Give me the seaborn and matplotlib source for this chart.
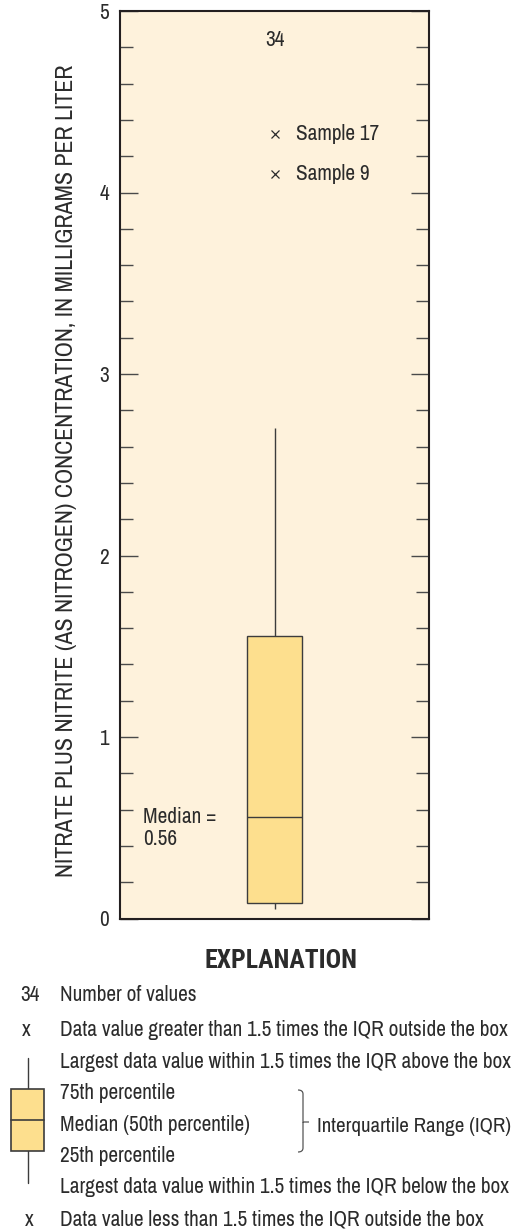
import numpy as np
import pandas as pd
import matplotlib
matplotlib.use("Agg")
import matplotlib.pyplot as plt
from matplotlib.ticker import MultipleLocator, FixedFormatter, FixedLocator
from matplotlib.path import Path
from matplotlib.patches import PathPatch, Rectangle
from matplotlib.lines import Line2D
import seaborn as sns

# Nitrate plus nitrite (as N) concentrations, mg/L, one value per sample
concentrations = [0.05, 0.05, 0.06, 0.06, 0.06, 0.07, 0.07, 0.08, 0.08, 0.092,
                  0.12, 0.18, 0.25, 0.31, 0.38, 0.46, 0.55, 0.57, 0.68, 0.79,
                  0.90, 1.04, 1.18, 1.36, 1.54, 1.56, 1.72, 1.88, 2.02, 2.19,
                  2.41, 2.70, 4.10, 4.32]
outlier_names = ["Sample 9", "Sample 17"]
y_ticks = [0, 1, 2, 3, 4, 5]
y_tick_labels = ["0", "1", "2", "3", "4", "5"]

ylabel = "NITRATE PLUS NITRITE (AS NITROGEN) CONCENTRATION, IN MILLIGRAMS PER LITER"
legend_rows = [
    ("34", "Number of values"),
    ("x", "Data value greater than 1.5 times the IQR outside the box"),
    ("", "Largest data value within 1.5 times the IQR above the box"),
    ("", "75th percentile"),
    ("", "Median (50th percentile)"),
    ("", "25th percentile"),
    ("", "Largest data value within 1.5 times the IQR below the box"),
    ("x", "Data value less than 1.5 times the IQR outside the box"),
]

BG = "#FEF2DC"
BOX = "#FDDF8E"
INK = "#2b2b2b"
EDGE = "#3c3c3c"
NARROW = ["Archivo Narrow", "Roboto Condensed", "DejaVu Sans"]
NARROW_BOLD = ["Roboto Condensed", "Fira Sans Condensed", "DejaVu Sans"]
FS = 15.3

sns.set_theme(style="white")
plt.rcParams["font.family"] = NARROW
plt.rcParams["text.color"] = INK

W, H = 514, 1232
fig = plt.figure(figsize=(W / 100, H / 100), dpi=100)


def fx(px):
    return px / W


def fy(py):
    return 1 - py / H


ax = fig.add_axes([fx(120), fy(918.5), fx(429) - fx(120), fy(11) - fy(918.5)])
ax.set_facecolor(BG)

df = pd.DataFrame({"group": ["all"] * len(concentrations), "value": concentrations})
sns.boxplot(data=df, x="group", y="value", ax=ax, width=0.175,
            color=BOX, linecolor=EDGE, linewidth=1.0, saturation=1,
            showcaps=False,
            flierprops=dict(marker="x", markersize=5.5, markeredgewidth=0.9,
                            markeredgecolor=INK))

ax.set_xlim(-0.5, 0.5)
ax.set_ylim(0, 5)
ax.set_xlabel("")
ax.set_xticks([])
ax.yaxis.set_major_locator(FixedLocator(y_ticks))
ax.yaxis.set_major_formatter(FixedFormatter(y_tick_labels))
ax.yaxis.set_minor_locator(MultipleLocator(0.2))
ax.tick_params(axis="y", which="major", direction="in", length=13, width=1.0,
               color="#4a4a4a", left=True, right=True, labelsize=FS, pad=8,
               labelcolor=INK)
ax.tick_params(axis="y", which="minor", direction="in", length=9.5, width=1.0,
               color="#4a4a4a", left=True, right=True)
for sp in ax.spines.values():
    sp.set_visible(True)
    sp.set_color("#231f20")
    sp.set_linewidth(1.5)

ax.set_ylabel(ylabel, fontsize=17.2, color=INK, va="center")
ax.yaxis.set_label_coords(fx(67), fy(471), transform=fig.transFigure)

# Count, median and outlier annotations
vals = np.array(concentrations)
q1, med, q3 = np.percentile(vals, [25, 50, 75])
iqr = q3 - q1
outs = np.sort(vals[vals > q3 + 1.5 * iqr])
ax.annotate(str(len(vals)), xy=(0, 0.968), xycoords=("data", "axes fraction"),
            ha="center", va="center", fontsize=FS)
ax.annotate(f"Median =\n{med:.2f}", xy=(0.074, med), xycoords=("axes fraction", "data"),
            xytext=(0, -11), textcoords="offset pixels",
            ha="left", va="center", fontsize=FS, linespacing=1.15)
for name, v in zip(outlier_names, outs):
    ax.annotate(name, xy=(0, v), xytext=(22, 0), textcoords="offset pixels",
                ha="left", va="center", fontsize=FS)

# Explanation
fig.text(fx(281.5), fy(961), "EXPLANATION", ha="center", va="center",
         fontsize=18.5, fontweight="bold", family=NARROW_BOLD, color=INK)
row_y = [995, 1030, 1062, 1093, 1125, 1156, 1187, 1220]
sym_x = [30, 26, 0, 0, 0, 0, 0, 29]
for (sym, txt), yy, sx in zip(legend_rows, row_y, sym_x):
    fig.text(fx(60), fy(yy), txt, ha="left", va="center", fontsize=FS)
    if sym:
        fig.text(fx(sx), fy(yy), sym, ha="center", va="center", fontsize=FS)

# Sample box symbol
fig.add_artist(Line2D([fx(28), fx(28)], [fy(1058), fy(1183)],
                      transform=fig.transFigure, color=EDGE, lw=1.0))
fig.add_artist(Rectangle((fx(11), fy(1151)), fx(44) - fx(11), fy(1089) - fy(1151),
                         transform=fig.transFigure, facecolor=BOX, edgecolor=EDGE,
                         lw=1.2, zorder=3))
fig.add_artist(Line2D([fx(11), fx(44)], [fy(1120), fy(1120)],
                      transform=fig.transFigure, color=EDGE, lw=1.2, zorder=4))

# Brace spanning the interquartile rows
bx, btop, bmid, bbot, tip = 298, 1090, 1122, 1152, 309
verts = [(bx, btop), (bx + 5, btop), (bx + 5, btop + 4), (bx + 5, btop + 10),
         (bx + 5, bmid - 6), (bx + 5, bmid - 1), (bx + 5, bmid), (tip, bmid),
         (bx + 5, bmid), (bx + 5, bmid + 1), (bx + 5, bmid + 6),
         (bx + 5, bbot - 10), (bx + 5, bbot - 4), (bx + 5, bbot), (bx, bbot)]
codes = [Path.MOVETO, Path.CURVE3, Path.CURVE3, Path.LINETO,
         Path.LINETO, Path.CURVE3, Path.CURVE3, Path.LINETO,
         Path.MOVETO, Path.CURVE3, Path.CURVE3, Path.LINETO,
         Path.LINETO, Path.CURVE3, Path.CURVE3]
verts = [(fx(x), fy(y)) for x, y in verts]
fig.add_artist(PathPatch(Path(verts, codes), transform=fig.transFigure,
                         facecolor="none", edgecolor="#555555", lw=0.9))
fig.text(fx(317), fy(1127), "Interquartile Range (IQR)", ha="left", va="center",
         fontsize=15.1)

fig.savefig("out.png", dpi=100, facecolor="white")
